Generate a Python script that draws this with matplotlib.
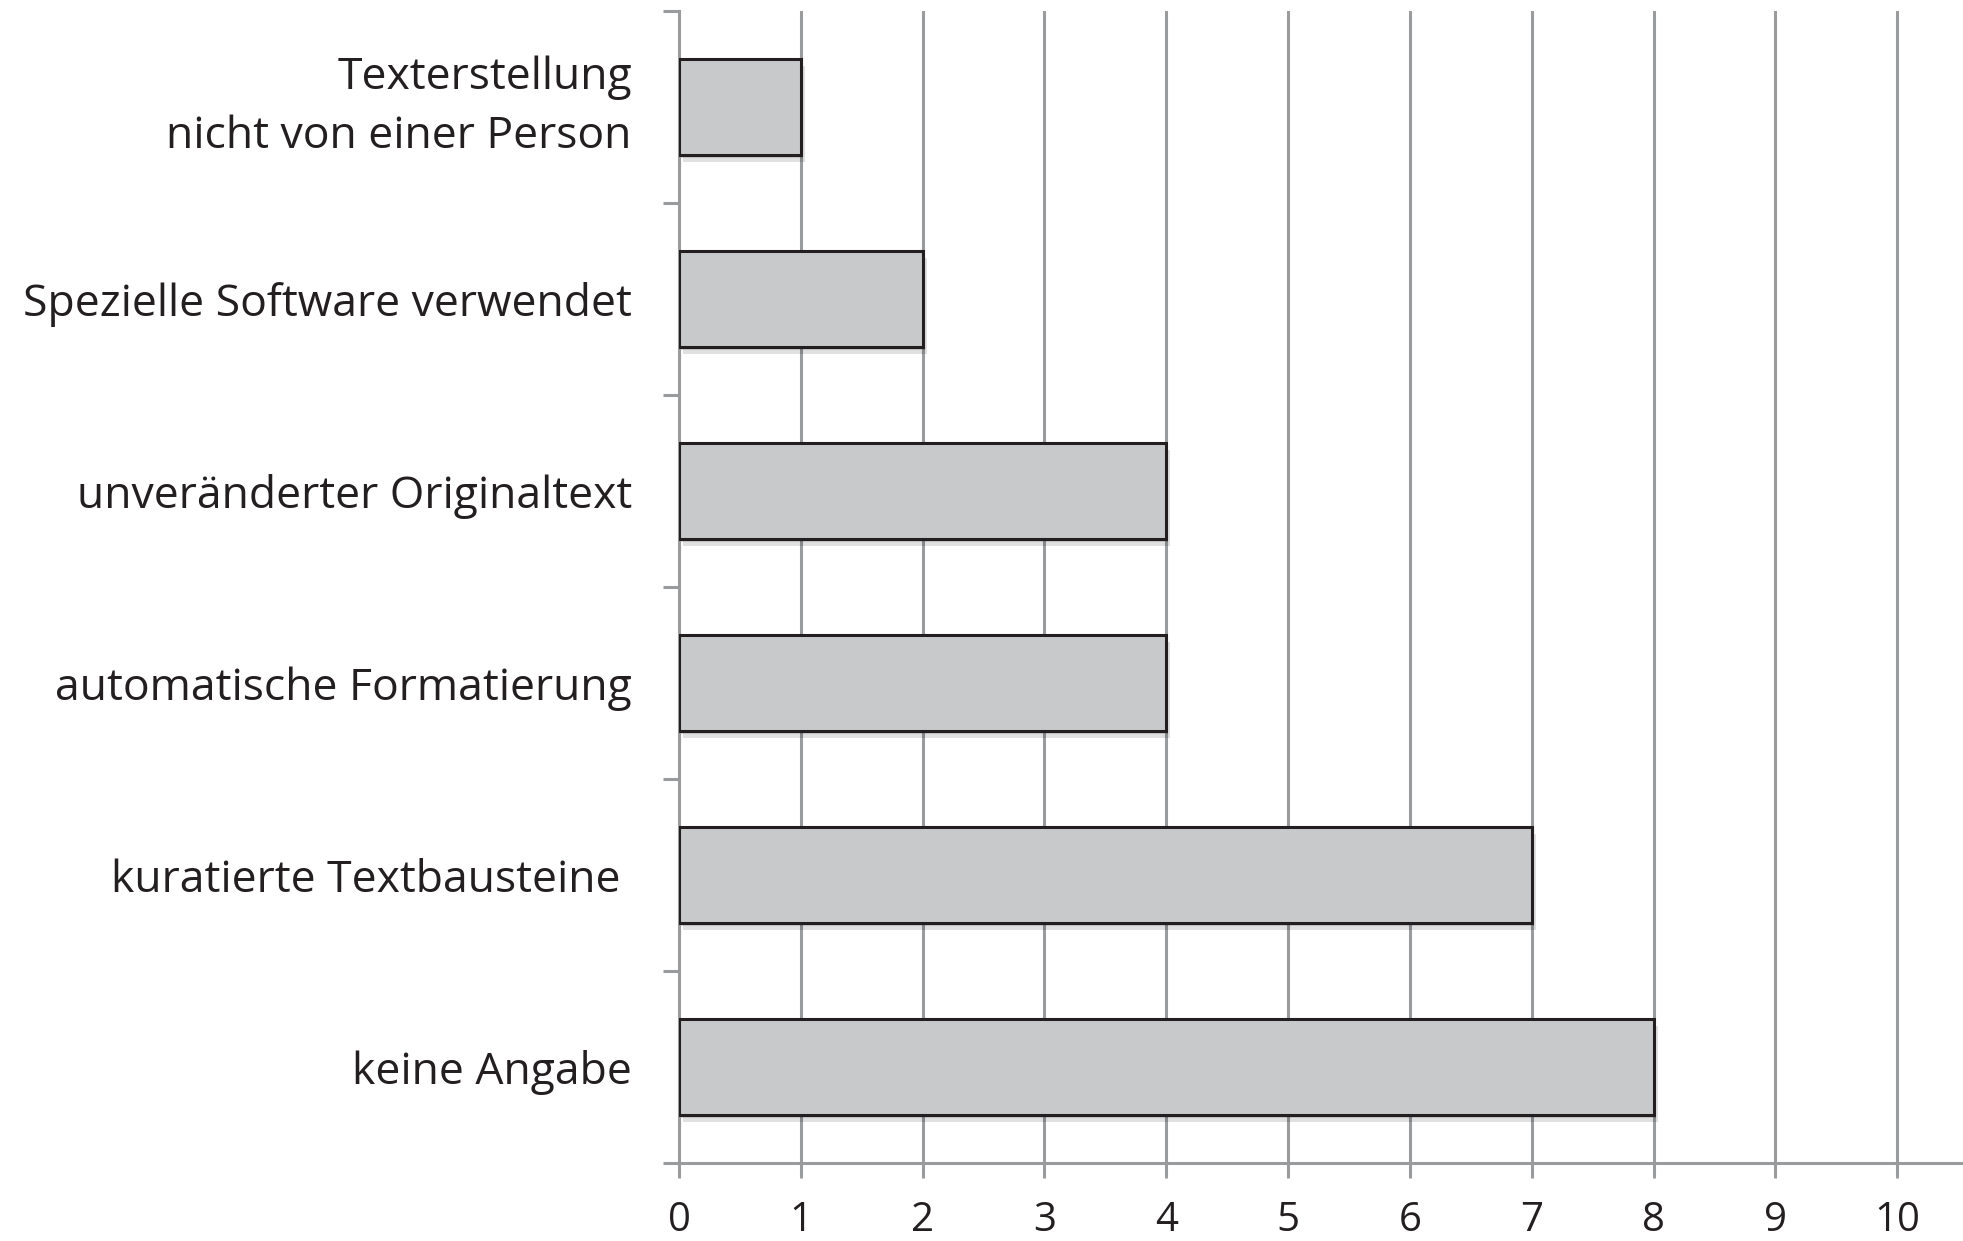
import matplotlib
matplotlib.use("Agg")
import matplotlib.pyplot as plt
import matplotlib.patheffects as pe
import numpy as np

categories = [
    "Texterstellung\nnicht von einer Person",
    "Spezielle Software verwendet",
    "unveränderter Originaltext",
    "automatische Formatierung",
    "kuratierte Textbausteine ",
    "keine Angabe",
]
values = [1, 2, 4, 4, 7, 8]
xticks = list(range(0, 11))

plt.rcParams['font.family'] = ['Open Sans', 'DejaVu Sans']

W, H = 1963, 1241
fig = plt.figure(figsize=(W / 100, H / 100), dpi=100)
left = 679 / W
bottom = 1 - 1163 / H
top = 1 - 11 / H
ax = fig.add_axes([left, bottom, 1 - left, top - bottom])

grid_c = "#9a9b9d"
pos = np.arange(len(categories))
shadow = [pe.SimplePatchShadow(offset=(3, -5), shadow_rgbFace="#000000", alpha=0.12),
          pe.SimplePatchShadow(offset=(1.5, -2.5), shadow_rgbFace="#000000", alpha=0.12),
          pe.Normal()]
bars = ax.barh(pos, values, height=0.5, color="#c8c9cb", edgecolor="#231f20",
               linewidth=2.2, zorder=3)
for b in bars:
    b.set_path_effects(shadow)

ax.set_xlim(0, 10.54)
ax.set_ylim(len(categories) - 0.5, -0.5)
ax.set_xticks(xticks)
ax.set_xticklabels([str(t) for t in xticks], fontsize=29)
ax.xaxis.grid(True, color=grid_c, linewidth=2.2, zorder=0)
ax.set_axisbelow(True)

ax.set_yticks(pos)
ylabels = ax.set_yticklabels(categories, fontsize=32, color="#231f20", linespacing=1.42)
for lab in ylabels:
    if "\n" in lab.get_text():
        lab.set_verticalalignment("center")
ax.set_yticks(np.arange(-0.5, len(categories) + 0.5, 1), minor=True)
ax.tick_params(axis='y', which='major', length=0, pad=34)
ax.tick_params(axis='y', which='minor', length=11.5, width=2.2, color=grid_c, direction='out')
ax.tick_params(axis='x', which='major', length=11, width=2.2, color=grid_c, pad=16,
               labelcolor="#231f20")

for s in ["top", "right"]:
    ax.spines[s].set_visible(False)
for s in ["left", "bottom"]:
    ax.spines[s].set_color(grid_c)
    ax.spines[s].set_linewidth(2.2)

fig.savefig("out.png", dpi=100, facecolor="white")
